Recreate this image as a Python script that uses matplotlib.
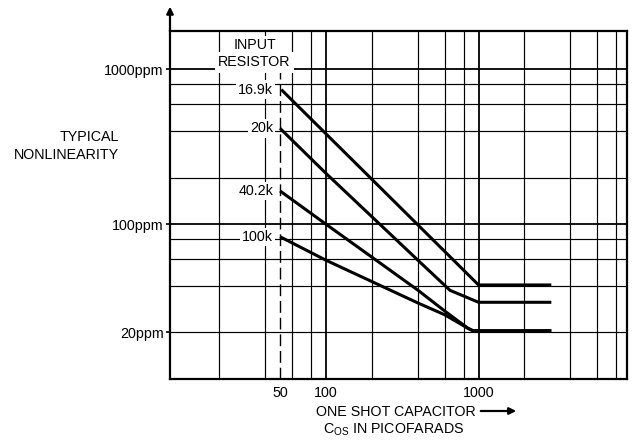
import matplotlib
matplotlib.use('Agg')
import matplotlib.pyplot as plt

plt.rcParams['font.family'] = ['Liberation Sans', 'DejaVu Sans']
plt.rcParams['mathtext.fontset'] = 'custom'
plt.rcParams['mathtext.rm'] = 'Liberation Sans'

# curves: capacitor (pF) vs nonlinearity (ppm)
resistors = ['16.9k', '20k', '40.2k', '100k']
cap_169k = [51, 1000, 3000]
ppm_169k = [740, 40.5, 40.5]
cap_20k = [50, 100, 400, 650, 1000, 3000]
ppm_20k = [416, 213, 58.6, 37.4, 31.3, 31.3]
cap_402k = [50, 100, 400, 600, 850, 920, 3000]
ppm_402k = [164, 100, 37.5, 27.5, 21.3, 20.5, 20.5]
cap_100k = [50, 100, 400, 600, 850, 920, 3000]
ppm_100k = [83, 58.5, 31, 26, 21.3, 20.5, 20.5]

x_grid = [20, 40, 60, 80, 100, 200, 400, 600, 800, 1000, 2000, 4000, 6000, 8000]
y_grid = [20, 40, 60, 80, 100, 200, 400, 600, 800, 1000]
x_ticks = [50, 100, 1000]
x_labels = ['50', '100', '1000']
y_ticks = [20, 100, 1000]
y_labels = ['20ppm', '100ppm', '1000ppm']

FS = 10.3

fig = plt.figure(figsize=(6.34, 4.4), dpi=100)
ax = fig.add_axes([170/634, 1 - 379/440, 457/634, 348/440])
ax.set_xscale('log')
ax.set_yscale('log')
ax.set_xlim(9.5, 9400)
ax.set_ylim(10, 1770)

for v in x_grid:
    ax.axvline(v, color='k', lw=1.3 if v in (100, 1000) else 0.85, zorder=1)
for v in y_grid:
    ax.axhline(v, color='k', lw=1.3 if v in (100, 1000) else 0.85, zorder=1)
# dashed marker at 50 pF, from the bottom up to the 1000ppm line
ax.plot([50, 50], [10, 1000], color='k', lw=1.0, ls=(0, (8.5, 3.5)), zorder=1)

series = [(cap_169k, ppm_169k), (cap_20k, ppm_20k), (cap_402k, ppm_402k), (cap_100k, ppm_100k)]
for name, (xs, ys) in zip(resistors, series):
    ax.plot(xs, ys, color='k', lw=2.2, solid_capstyle='butt', zorder=3)
    ax.annotate(name, xy=(50, ys[0]), xytext=(-5, 0), textcoords='offset points',
                ha='right', va='center', fontsize=FS, zorder=4,
                bbox=dict(facecolor='white', edgecolor='none', pad=1.5))

ax.text(34.5, 1440, 'INPUT', ha='center', va='center', fontsize=FS, zorder=4,
        bbox=dict(facecolor='white', edgecolor='none', pad=1.5))
ax.text(34.0, 1110, 'RESISTOR', ha='center', va='center', fontsize=FS, zorder=4,
        bbox=dict(facecolor='white', edgecolor='none', pad=2.5))

ax.set_xticks(x_ticks)
ax.set_xticklabels(x_labels)
ax.set_yticks(y_ticks)
ax.set_yticklabels(y_labels)
ax.minorticks_off()
ax.tick_params(axis='x', length=0, pad=5, labelsize=FS)
ax.tick_params(axis='y', length=3, width=1.2, pad=1.5, labelsize=FS)

for s in ax.spines.values():
    s.set_linewidth(1.6)

ax.annotate('', xy=(0, 1.07), xytext=(0, 1), xycoords='axes fraction',
            arrowprops=dict(arrowstyle='-|>', lw=1.6, color='k',
                            mutation_scale=10, shrinkA=0, shrinkB=0),
            annotation_clip=False)

fig.text(119/634, 1 - 146/440, 'TYPICAL\nNONLINEARITY', ha='right', va='center',
         fontsize=FS, multialignment='right', linespacing=1.3)

fig.text(396/634, 1 - 412/440, 'ONE SHOT CAPACITOR', ha='center', va='center', fontsize=FS)
fig.text(394/634, 1 - 430/440, r'$\mathrm{C_{OS}}$ IN PICOFARADS', ha='center', va='center', fontsize=FS)
fig.patches.append(matplotlib.patches.FancyArrowPatch(
    (478/634, 1 - 411/440), (519/634, 1 - 411/440), transform=fig.transFigure,
    arrowstyle='-|>', mutation_scale=10, lw=1.6, color='k'))

fig.savefig('out.png', dpi=100)
